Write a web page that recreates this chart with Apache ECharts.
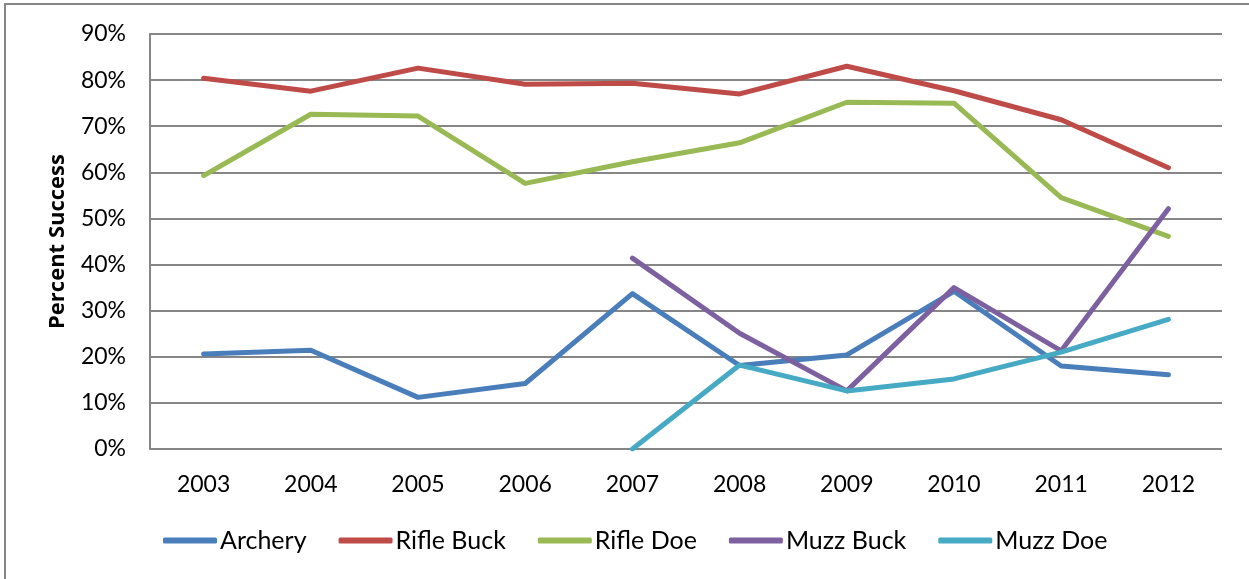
<!DOCTYPE html>
<html><head><meta charset="utf-8">
<script src="https://cdn.jsdelivr.net/npm/echarts@6/dist/echarts.min.js"></script>
<style>html,body{margin:0;padding:0;background:#fff}#c{width:1249px;height:579px}</style>
</head><body><div id="c"></div>
<script>
const years = ['2003','2004','2005','2006','2007','2008','2009','2010','2011','2012'];
const archery   = [20.6, 21.4, 11.2, 14.2, 33.7, 18.1, 20.4, 34.2, 18.0, 16.1];
const rifleBuck = [80.4, 77.6, 82.6, 79.1, 79.3, 77.0, 83.0, 77.7, 71.4, 61.0];
const rifleDoe  = [59.3, 72.6, 72.2, 57.6, 62.3, 66.4, 75.2, 75.0, 54.5, 46.1];
const muzzBuck  = [null, null, null, null, 41.4, 25.1, 12.6, 35.0, 21.3, 52.1];
const muzzDoe   = [null, null, null, null, 0.0, 18.2, 12.6, 15.2, 21.0, 28.1];
const seriesNames = ['Archery','Rifle Buck','Rifle Doe','Muzz Buck','Muzz Doe'];
const colors = ['#4a7ebb','#be4b48','#98b954','#7d60a0','#46aac5'];
const allData = [archery, rifleBuck, rifleDoe, muzzBuck, muzzDoe];

const font = 'Lato, Open Sans, sans-serif';
const chart = echarts.init(document.getElementById('c'), null, {renderer:'canvas'});
chart.setOption({
  animation:false,
  backgroundColor:'#fff',
  color: colors,
  graphic:[{type:'rect', shape:{x:5,y:4,width:1400,height:700}, style:{fill:'none', stroke:'#868686', lineWidth:2}, z:-1}],
  grid:{left:150, right:27, top:34, bottom:130, containLabel:false},
  legend:{
    top:523, left:158, itemWidth:54, itemHeight:6, itemGap:32,
    icon:'roundRect',
    textStyle:{fontFamily:font, fontSize:25, color:'#000', padding:[0,0,0,-2]},
    data: seriesNames
  },
  xAxis:{
    type:'category', data: years, boundaryGap:true,
    axisLine:{show:false}, axisTick:{show:false},
    axisLabel:{fontFamily:font, fontSize:23, color:'#000', margin:24}
  },
  yAxis:{
    type:'value', min:0, max:90, interval:10,
    name:'Percent Success', nameLocation:'middle', nameGap:81,
    nameTextStyle:{fontFamily:'Open Sans, Noto Sans, sans-serif', fontSize:22, fontWeight:'bold', color:'#000'},
    axisLine:{show:true, lineStyle:{color:'#868686', width:2}},
    axisTick:{show:false},
    axisLabel:{formatter:'{value}%', fontFamily:font, fontSize:23, color:'#000', margin:24},
    splitLine:{lineStyle:{color:'#868686', width:2}}
  },
  series: seriesNames.map((n,i)=>({
    name:n, type:'line', data: allData[i], showSymbol:false, symbol:'none',
    lineStyle:{width:5, color:colors[i], cap:'round', join:'round'},
    itemStyle:{color:colors[i]}
  }))
});
</script></body></html>
